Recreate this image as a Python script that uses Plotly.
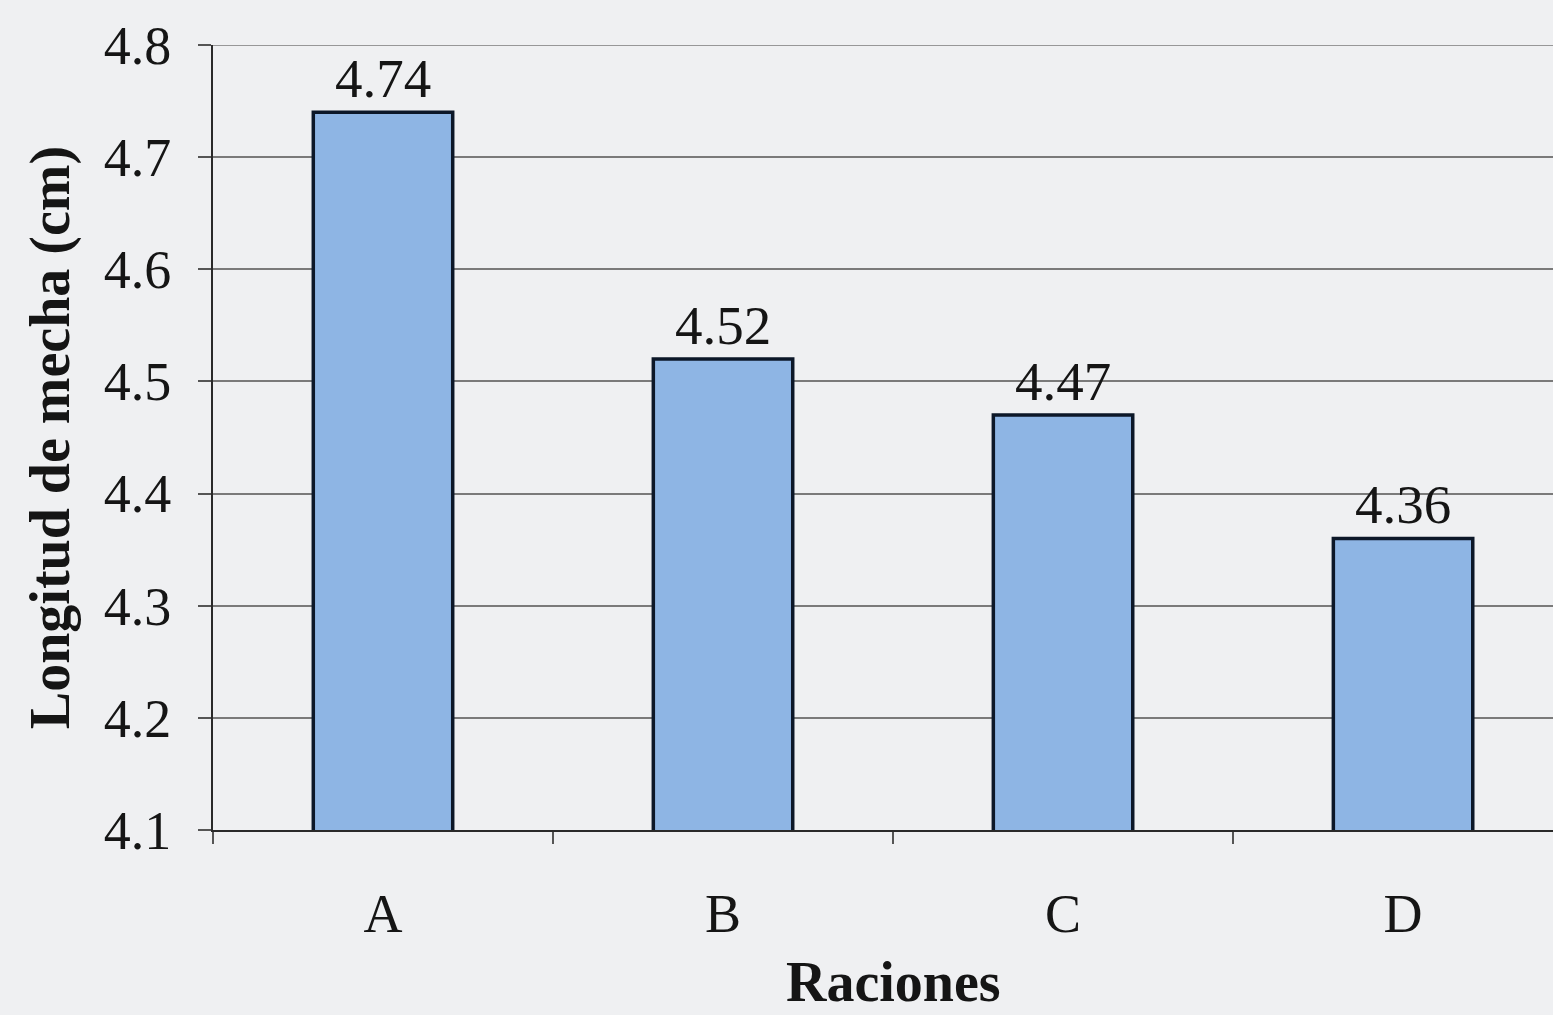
import plotly.graph_objects as go

# Longitud de mecha por ración
raciones = ["A", "B", "C", "D"]
longitud = [4.74, 4.52, 4.47, 4.36]
y_ticks = [4.1, 4.2, 4.3, 4.4, 4.5, 4.6, 4.7, 4.8]

serif = "Liberation Serif"
paper_bg = "#eff0f2"
grid_col = "#7a7a7a"

fig = go.Figure(
    go.Bar(
        x=raciones,
        y=longitud,
        width=0.41,
        marker=dict(color="#8eb5e4", line=dict(color="#0c1728", width=3.5)),
        text=[f"{v:.2f}" for v in longitud],
        textposition="outside",
        cliponaxis=False,
        textfont=dict(family=serif, size=55, color="#151515"),
    )
)

fig.update_layout(
    width=1553,
    height=1015,
    margin=dict(l=213, r=0, t=45, b=185),
    paper_bgcolor=paper_bg,
    plot_bgcolor=paper_bg,
    showlegend=False,
    font=dict(family=serif, color="#151515"),
    xaxis=dict(
        type="category",
        range=[-0.5, 3.441],
        tickson="boundaries",
        ticks="outside",
        ticklen=12,
        tickwidth=1.5,
        tickcolor="#555555",
        showline=True,
        linecolor="#2a2a2a",
        linewidth=2,
        showgrid=False,
        tickfont=dict(family=serif, size=54, color="#151515"),
        ticklabelstandoff=35,
    ),
    yaxis=dict(
        range=[4.1, 4.8],
        tickvals=y_ticks,
        ticktext=[f"{v:.1f}" for v in y_ticks],
        ticks="outside",
        ticklen=13,
        tickwidth=1.5,
        tickcolor="#555555",
        showline=True,
        linecolor="#2a2a2a",
        linewidth=2,
        showgrid=True,
        gridcolor=grid_col,
        gridwidth=1.5,
        zeroline=False,
        tickfont=dict(family=serif, size=54, color="#151515"),
        ticklabelstandoff=16,
        title=dict(
            text="<b>Longitud de mecha (cm)</b>",
            font=dict(family=serif, size=56, color="#151515"),
            standoff=16,
        ),
    ),
    shapes=[
        # gridline at the top of the value range
        dict(
            type="line",
            xref="paper",
            yref="y",
            x0=0,
            x1=1,
            y0=4.8,
            y1=4.8,
            line=dict(color=grid_col, width=1.5),
            layer="below",
        )
    ],
    annotations=[
        dict(
            text="<b>Raciones</b>",
            x=1.5,
            xref="x",
            y=-0.2357,
            yref="paper",
            yanchor="bottom",
            showarrow=False,
            font=dict(family=serif, size=56, color="#151515"),
        )
    ],
)

fig.write_html("out.html")
